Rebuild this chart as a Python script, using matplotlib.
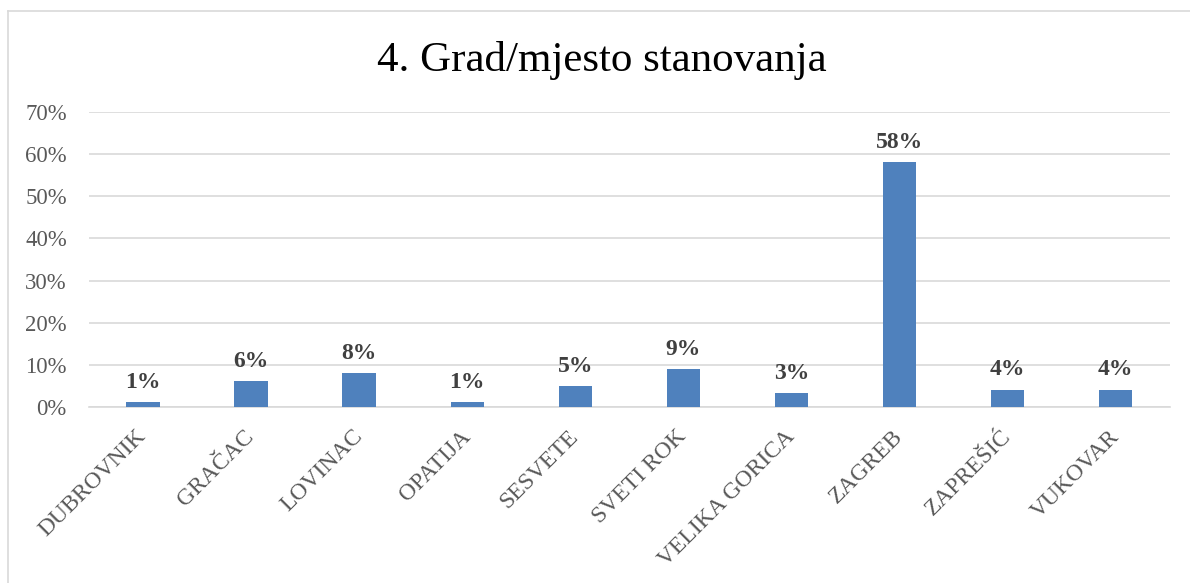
import matplotlib.pyplot as plt
import numpy as np
from matplotlib.lines import Line2D

# data (percent)
cities = ['DUBROVNIK', 'GRAČAC', 'LOVINAC', 'OPATIJA', 'SESVETE',
          'SVETI ROK', 'VELIKA GORICA', 'ZAGREB', 'ZAPREŠIĆ', 'VUKOVAR']
shares = [1.2, 6.1, 8.1, 1.2, 4.9, 9.0, 3.3, 58.1, 4.1, 4.1]
yticks = [0, 10, 20, 30, 40, 50, 60, 70]

plt.rcParams['font.family'] = ['Liberation Serif', 'DejaVu Serif']
grey = '#595959'
bar_color = '#4F81BD'

fig = plt.figure(figsize=(11.9, 5.83), dpi=100)
ax = fig.add_axes([0.0748, 0.302, 0.9082, 0.506])

X = np.arange(len(cities))
ax.bar(X, shares, width=0.31, color=bar_color, zorder=3)

for x, y in zip(X, shares):
    ax.text(x, y + 2.2, '%.0f%%' % y, ha='center', va='bottom',
            fontsize=17, fontweight='bold', color='#404040', zorder=4)

ax.set_xlim(-0.5, len(cities) - 0.5)
ax.set_ylim(0, 70)
ax.set_yticks(yticks)
ax.set_yticklabels(['%d%%' % t for t in yticks], fontsize=16.4, color=grey)
ax.set_xticks(X)
ax.set_xticklabels(cities, rotation=45, ha='right', va='center',
                   rotation_mode='anchor', fontsize=17, color=grey)
ax.tick_params(axis='both', length=0)
ax.tick_params(axis='y', pad=16)
ax.tick_params(axis='x', pad=19)
ax.grid(axis='y', color='#D9D9D9', linewidth=1.2, zorder=0)
for s in ['top', 'right', 'left']:
    ax.spines[s].set_visible(False)
ax.spines['bottom'].set_color('#D9D9D9')
ax.spines['bottom'].set_linewidth(1.2)

fig.text(0.506, 1 - 60 / 583, '4. Grad/mjesto stanovanja', ha='center', va='center',
         fontsize=31, color='black')

# thin chart border (top and left visible in the reference)
W, H = 1190, 583
fig.add_artist(Line2D([7.5 / W, 1], [1 - 10.5 / H, 1 - 10.5 / H], color='#D9D9D9', lw=1.2))
fig.add_artist(Line2D([7.5 / W, 7.5 / W], [0, 1 - 10.5 / H], color='#D9D9D9', lw=1.2))

plt.savefig('out.png', dpi=100)
